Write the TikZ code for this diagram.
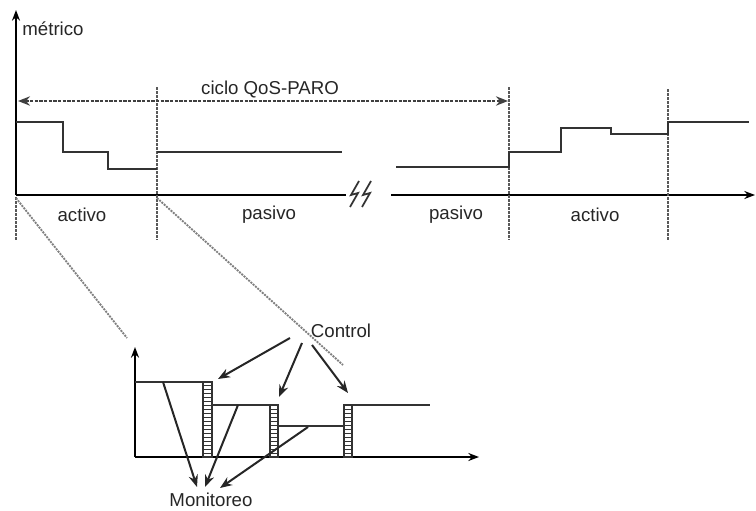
\documentclass[tikz,border=0pt]{standalone}
\usepackage{fontspec}
\setmainfont{Liberation Sans}
\usetikzlibrary{arrows.meta,positioning,patterns}

\begin{document}
\begin{tikzpicture}[
  x=0.75pt, y=-0.75pt,
  lbl/.style={font=\fontsize{14}{16}\selectfont, inner sep=1pt, text=black!85},
  ax/.style={-{Stealth[length=8pt,width=6pt]}, line width=1.3pt, black},
  axline/.style={line width=1.3pt, black},
  stair/.style={line width=1.8pt, black!80},
  sep/.style={line width=1.6pt, black!65, dash pattern=on 2pt off 1pt},
  zoomln/.style={line width=1.4pt, black!50, dash pattern=on 1.5pt off 0.8pt},
  cyc/.style={{Stealth[length=9pt,width=7pt]}-{Stealth[length=9pt,width=7pt]}, line width=1.6pt, black!75, dash pattern=on 2.5pt off 1pt},
  arr/.style={-{Stealth[length=9pt,width=7pt]}, line width=1.5pt, black!85},
  gate/.style={draw=black!80, line width=1pt, pattern=horizontal lines, pattern color=black!80}
]
\useasboundingbox (0,0) rectangle (756,510);

% upper chart: axes
\coordinate (o) at (16,195);
\coordinate (ytop) at (16,10);
\coordinate (brkL) at (346,195);
\coordinate (brkR) at (391,195);
\coordinate (xend) at (755,195);
\draw[ax] (o) -- (ytop);
\draw[axline] (o) -- (brkL);
\draw[ax] (brkR) -- (xend);
% break mark
\foreach \bx in {350,362}
  \draw[line width=1.3pt, black!80] (\bx+9,181) -- (\bx+1,195) -- (\bx+8,193) -- (\bx,207);

% phase borders
\draw[sep] (16,197) -- (16,240);
\draw[sep] (157,87) -- (157,240);
\draw[sep] (509,87) -- (509,240);
\draw[sep] (668,89) -- (668,240);

% cycle
\coordinate (cycL) at (18,101);
\coordinate (cycR) at (508,101);
\draw[cyc] (cycL) -- (cycR);
\node[lbl] (ciclo) at (270,90) {ciclo QoS-PARO};
\node[lbl] (met) at (53,29) {métrico};

% metric curve
\draw[stair] (16,122) -| (63,152) -| (108,169) -- (157,169);
\draw[stair] (157,152) -- (342,152);
\draw[stair] (396,167) -- (509,167) |- (561,152) |- (611,128) |- (668,134) |- (749,122);

% phase labels
\node[lbl] (act1) at (82,215) {activo};
\node[lbl] (pas1) at (269,215) {pasivo};
\node[lbl] (pas2) at (456,215) {pasivo};
\node[lbl] (act2) at (595,215) {activo};

% zoom lines
\draw[zoomln] (16,198) -- (127,338);
\draw[zoomln] (157,198) -- (343,365);

% lower chart
\coordinate (o2) at (135,457);
\draw[ax] (o2) -- (135,347);
\draw[ax] (o2) -- (479,457);
\draw[stair] (135,382) -- (207,382);
\draw[stair] (212,405) -- (274,405);
\draw[stair] (278,426) -- (344,426);
\draw[stair] (352,405) -- (430,405);
\draw[gate] (203,382) rectangle (212,457);
\draw[gate] (270,405) rectangle (278,457);
\draw[gate] (344,405) rectangle (352,457);

\node[lbl] (ctrl) at (341,331) {Control};
\node[lbl] (mon) at (211,500) {Monitoreo};

% control arrows
\coordinate (c1) at (290,338);
\coordinate (c2) at (302,343);
\coordinate (c3) at (312,345);
\coordinate (g1) at (218,379);
\coordinate (g2) at (279,397);
\coordinate (g3) at (348,393);
\draw[arr] (c1) -- (g1);
\draw[arr] (c2) -- (g2);
\draw[arr] (c3) -- (g3);

% monitoring arrows
\coordinate (s1) at (163,382);
\coordinate (s2) at (238,405);
\coordinate (s3) at (308,427);
\coordinate (m1) at (197,487);
\coordinate (m2) at (205,487);
\coordinate (m3) at (220,488);
\draw[arr] (s1) -- (m1);
\draw[arr] (s2) -- (m2);
\draw[arr] (s3) -- (m3);
\end{tikzpicture}
\end{document}
